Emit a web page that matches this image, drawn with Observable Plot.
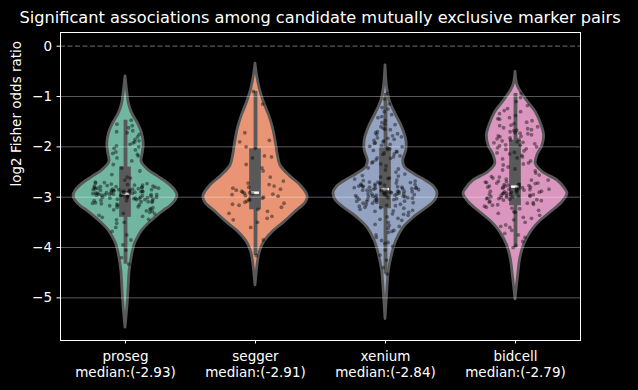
<!DOCTYPE html>
<html><head><meta charset="utf-8">
<script src="https://cdn.jsdelivr.net/npm/d3@7"></script>
<script src="https://cdn.jsdelivr.net/npm/@observablehq/plot@0.6"></script>
<style>
html,body{margin:0;padding:0;background:#000;}
body{width:638px;height:390px;overflow:hidden;font-family:"DejaVu Sans",sans-serif;}
#title{position:relative;height:28px;color:#fff;font-size:16.2px;line-height:18.86px;}
#title span{position:absolute;left:320px;top:9px;transform:translateX(-50%);white-space:nowrap;}
svg{display:block;}
</style></head>
<body>
<div id="title"><span>Significant associations among candidate mutually exclusive marker pairs</span></div>
<div id="chart"></div>
<script>
// ---- data ----
const methods = ["proseg", "segger", "xenium", "bidcell"];
const medianLabels = ["-2.93", "-2.91", "-2.84", "-2.79"];
// Set2 palette at seaborn's 0.75 saturation
const colors = ["#71b6a0", "#e99575", "#95a3c3", "#db96c0"];
const yTicks = [0, -1, -2, -3, -4, -5];

// box statistics (top of box, bottom of box, whisker ends, median)
const boxTop = [-2.40, -2.04, -2.02, -1.87];
const boxBottom = [-3.40, -3.25, -3.23, -3.17];
const whiskerHigh = [-1.47, -0.90, -0.94, -0.94];
const whiskerLow = [-4.33, -4.16, -4.53, -4.00];
const medians = [-2.93, -2.91, -2.84, -2.79];

// violin outlines: value and relative half-width
const prosegProfileV = [-0.60,-0.88,-1.14,-1.34,-1.54,-1.74,-1.94,-2.14,-2.30,-2.47,-2.60,-2.735,-2.87,-2.97,-3.07,-3.18,-3.267,-3.40,-3.53,-3.665,-3.80,-3.93,-4.13,-4.46,-4.79,-5.13,-5.59];
const prosegProfileW = [0,0.03,0.065,0.13,0.24,0.32,0.35,0.33,0.31,0.45,0.64,0.83,0.96,1.0,0.96,0.86,0.74,0.58,0.44,0.32,0.24,0.18,0.13,0.08,0.06,0.04,0];
const seggerProfileV = [-0.345,-0.58,-0.84,-1.11,-1.37,-1.64,-1.91,-2.17,-2.37,-2.57,-2.77,-2.97,-3.10,-3.30,-3.50,-3.70,-3.90,-4.10,-4.30,-4.75];
const seggerProfileW = [0,0.03,0.08,0.16,0.26,0.34,0.39,0.43,0.48,0.65,0.87,1.0,0.97,0.76,0.55,0.32,0.16,0.08,0.045,0];
const xeniumProfileV = [-0.38,-0.81,-1.08,-1.34,-1.61,-1.87,-2.07,-2.27,-2.40,-2.54,-2.67,-2.80,-2.93,-3.07,-3.20,-3.40,-3.60,-3.86,-4.13,-4.46,-4.93,-5.42];
const xeniumProfileW = [0,0.03,0.08,0.19,0.32,0.40,0.40,0.34,0.37,0.55,0.77,0.94,1.0,0.95,0.81,0.55,0.35,0.21,0.13,0.065,0.03,0];
const bidcellProfileV = [-0.51,-0.78,-1.04,-1.31,-1.57,-1.77,-1.97,-2.17,-2.34,-2.50,-2.67,-2.83,-2.93,-3.10,-3.30,-3.50,-3.70,-3.96,-4.23,-4.56,-5.03];
const bidcellProfileW = [0,0.04,0.19,0.39,0.50,0.55,0.52,0.42,0.39,0.52,0.81,0.95,1.0,0.90,0.68,0.45,0.29,0.16,0.09,0.05,0];

// individual pair values (strip points)
const prosegValues = [-1.47,-1.55,-1.58,-1.62,-1.68,-1.72,-1.75,-1.80,-1.85,-1.88,-1.92,-1.95,-1.98,-2.00,-2.03,-2.06,-2.10,-2.13,-2.18,-2.22,-2.28,-2.35,-2.42,-2.48,
 -2.55,-2.60,-2.62,-2.66,-2.70,-2.72,-2.74,-2.76,-2.78,-2.79,-2.80,-2.81,-2.82,-2.83,-2.84,-2.85,-2.86,-2.86,-2.87,-2.88,-2.88,-2.89,-2.90,-2.90,-2.91,-2.92,-2.92,-2.93,-2.93,-2.94,-2.95,-2.95,-2.96,-2.97,-2.97,-2.98,-2.99,-3.00,-3.00,-3.01,-3.02,-3.03,-3.04,-3.05,-3.06,-3.07,-3.08,-3.09,-3.10,-3.12,-3.13,-3.15,-3.17,-3.19,-3.21,-3.23,-3.25,-3.28,-3.30,-3.33,-3.36,-3.40,
 -2.76,-2.80,-2.83,-2.85,-2.88,-2.91,-2.94,-2.97,-3.00,-3.03,
 -2.71,-2.73,-2.75,-2.77,-2.78,-2.79,-2.81,-2.82,-2.84,-2.85,-2.87,-2.87,-2.89,-2.90,-2.91,-2.92,-2.94,-2.95,-2.96,-2.98,-2.99,-3.01,-3.02,-3.04,-3.05,-3.07,-3.09,-3.11,-3.14,-3.16,-3.20,-3.24,-3.27,-3.32,-3.38,-3.44,-3.50,-1.70,-1.90,-2.15,
 -3.45,-3.52,-3.60,-3.68,-3.75,-3.85,-3.95,-4.05,-4.20,-4.33];
const seggerValues = [-0.90,-1.15,-1.72,-1.87,-1.90,-2.00,-2.03,-2.18,-2.20,-2.22,-2.35,-2.42,-2.48,-2.60,-2.68,-2.72,-2.75,-2.78,-2.80,-2.82,-2.84,-2.86,-2.88,-2.90,-2.91,-2.92,-2.93,-2.94,-2.95,-2.97,-2.98,-3.00,-3.02,-3.04,-3.06,-3.08,-3.10,-3.12,-3.14,-3.16,-3.20,-3.24,-3.28,-3.32,-3.38,-3.42,-3.45,-3.50,-3.60,-3.85,-4.16];
const xeniumValues = [-0.94,-1.05,-1.15,-1.22,-1.30,-1.36,-1.42,-1.48,-1.52,-1.56,-1.60,-1.63,-1.66,-1.70,-1.72,-1.75,-1.78,-1.80,-1.83,-1.85,-1.88,-1.90,-1.92,-1.95,-1.97,-2.00,-2.02,-2.05,-2.07,-2.10,-2.12,-2.15,-2.18,-2.20,-2.23,-2.26,-2.30,-2.34,-2.38,-2.42,-2.46,-2.50,
 -2.54,-2.57,-2.60,-2.62,-2.64,-2.66,-2.68,-2.70,-2.71,-2.72,-2.73,-2.74,-2.75,-2.76,-2.77,-2.78,-2.79,-2.80,-2.80,-2.81,-2.82,-2.82,-2.83,-2.84,-2.84,-2.85,-2.86,-2.86,-2.87,-2.88,-2.88,-2.89,-2.90,-2.90,-2.91,-2.92,-2.92,-2.93,-2.94,-2.94,-2.95,-2.96,-2.96,-2.97,-2.98,-2.98,-2.99,-3.00,-3.00,-3.01,-3.02,-3.03,-3.04,-3.05,-3.06,-3.07,-3.08,-3.09,-3.10,-3.11,-3.12,-3.14,-3.15,-3.17,-3.18,-3.20,-3.22,-3.24,-3.26,-3.28,-3.30,-3.33,-3.36,-3.39,
 -2.70,-2.72,-2.74,-2.76,-2.78,-2.79,-2.81,-2.83,-2.85,-2.87,-2.89,-2.91,-2.93,-2.95,-2.97,-2.99,-3.01,-3.03,-3.05,-3.08,-3.12,-3.16,-3.21,-3.27,-3.34,-3.44,-3.56,-3.68,-3.90,
 -1.25,-1.40,-1.55,-1.65,-1.74,-1.82,-1.87,-1.93,-1.99,-2.04,-2.09,-2.14,-2.22,-2.32,-2.44,-2.58,-2.63,-2.67,
 -3.42,-3.46,-3.50,-3.54,-3.58,-3.62,-3.66,-3.70,-3.75,-3.80,-3.86,-3.92,-3.98,-4.05,-4.15,-4.25,-4.40,-4.53];
const bidcellValues = [-0.94,-1.02,-1.10,-1.18,-1.24,-1.30,-1.34,-1.38,-1.42,-1.45,-1.48,-1.51,-1.54,-1.57,-1.60,-1.62,-1.64,-1.66,-1.68,-1.70,-1.72,-1.74,-1.76,-1.78,-1.80,-1.82,-1.84,-1.86,-1.88,-1.90,-1.92,-1.94,-1.96,-1.98,-2.00,-2.02,-2.05,-2.08,-2.11,-2.14,-2.17,-2.20,-2.24,-2.28,-2.32,-2.36,-2.40,-2.44,-2.48,
 -2.52,-2.56,-2.59,-2.62,-2.64,-2.66,-2.68,-2.70,-2.71,-2.72,-2.73,-2.74,-2.75,-2.76,-2.77,-2.78,-2.79,-2.80,-2.80,-2.81,-2.82,-2.83,-2.84,-2.85,-2.86,-2.87,-2.88,-2.89,-2.90,-2.91,-2.92,-2.93,-2.94,-2.95,-2.96,-2.97,-2.98,-2.99,-3.00,-3.01,-3.02,-3.03,-3.04,-3.05,-3.06,-3.08,-3.10,-3.12,-3.14,-3.16,-3.18,-3.20,-3.23,-3.26,-3.29,-3.32,
 -2.69,-2.72,-2.75,-2.78,-2.80,-2.82,-2.84,-2.86,-2.88,-2.90,-2.92,-2.94,-2.96,-2.98,-3.00,-3.03,-3.07,-3.11,-3.15,-3.22,-3.30,-3.42,-3.58,-3.75,
 -1.28,-1.44,-1.58,-1.67,-1.73,-1.79,-1.85,-1.91,-1.97,-2.04,-2.12,-2.22,-2.34,-2.46,-2.60,-2.66,
 -3.36,-3.40,-3.45,-3.50,-3.55,-3.60,-3.66,-3.72,-3.80,-3.88,-3.96,-4.00];

// ---- build tables ----
const profilesV = [prosegProfileV, seggerProfileV, xeniumProfileV, bidcellProfileV];
const profilesW = [prosegProfileW, seggerProfileW, xeniumProfileW, bidcellProfileW];
const valuesList = [prosegValues, seggerValues, xeniumValues, bidcellValues];
const HALF = 0.4; // half of violin width (in category units)

const violin = [];
methods.forEach((m, i) => profilesV[i].forEach((v, k) => violin.push({m, i, v, w: profilesW[i][k]})));

function widthAt(i, v) {
  const V = profilesV[i], W = profilesW[i];
  for (let k = 0; k < V.length - 1; k++) {
    if (v <= V[k] && v >= V[k + 1]) {
      const t = (V[k] - v) / (V[k] - V[k + 1]);
      return W[k] + t * (W[k + 1] - W[k]);
    }
  }
  return 0;
}
function hash(n) { const s = Math.sin(n * 127.1 + 311.7) * 43758.5453; return s - Math.floor(s); }

const points = [];
methods.forEach((m, i) => valuesList[i].forEach((v, k) => {
  const u = hash(i * 1000 + k) * 2 - 1;
  const spread = Math.min(0.26, HALF * 0.85 * widthAt(i, v));
  points.push({m, i, v, x: i + u * spread});
}));

const boxes = methods.map((m, i) => ({m, i, top: boxTop[i], bottom: boxBottom[i], hi: whiskerHigh[i], lo: whiskerLow[i], med: medians[i]}));

const GRAY = "#595959";
const chart = Plot.plot({
  width: 638,
  height: 362,
  marginTop: 4,
  marginBottom: 50,
  marginLeft: 60,
  marginRight: 58,
  style: {background: "#000", color: "#fff", fontFamily: "DejaVu Sans, sans-serif"},
  x: {domain: [-0.5, 3.5], axis: null},
  y: {domain: [-5.847, 0.272], axis: null},
  color: {domain: methods, range: colors},
  marks: [
    Plot.ruleY([0], {stroke: "#5a5a5a", strokeWidth: 1.2, strokeDasharray: "5,2.5"}),
    Plot.areaX(violin, {
      y: "v",
      x1: d => d.i - HALF * d.w,
      x2: d => d.i + HALF * d.w,
      z: "m",
      fill: "m",
      stroke: GRAY,
      strokeWidth: 2.8,
      curve: "catmull-rom"
    }),
    Plot.ruleX(boxes, {x: "i", y1: "lo", y2: "hi", stroke: GRAY, strokeWidth: 3.8}),
    Plot.rect(boxes, {x1: d => d.i - 0.045, x2: d => d.i + 0.045, y1: "bottom", y2: "top", fill: GRAY}),
    Plot.ruleY(yTicks.filter(t => t !== 0), {stroke: "#ffffff", strokeOpacity: 0.35, strokeWidth: 1}),
    Plot.ruleY(boxes, {x1: d => d.i - 0.03, x2: d => d.i + 0.03, y: "med", stroke: "#fff", strokeWidth: 2.4}),
    Plot.dot(points, {x: "x", y: "v", r: 1.9, fill: "#000", fillOpacity: 0.42, stroke: null}),
    Plot.frame({stroke: "#fff", strokeWidth: 1}),
    Plot.axisY(yTicks, {
      tickSize: 3.5, tickPadding: 5, fontSize: 13.5, stroke: "#fff", fill: "#fff",
      tickFormat: d => d === 0 ? "0" : "\u2212" + Math.abs(d), label: null
    }),
    Plot.axisX([0, 1, 2, 3], {
      tickSize: 3.5, tickPadding: 5, fontSize: 13.5, stroke: "#fff", fill: "#fff", lineHeight: 1.2,
      tickFormat: i => methods[i] + "\nmedian:(" + medianLabels[i] + ")", label: null
    }),
    Plot.text(["log2 Fisher odds ratio"], {frameAnchor: "left", rotate: -90, dx: -44, fontSize: 13.5, fill: "#fff"})
  ]
});
document.getElementById("chart").appendChild(chart);
</script>
</body></html>
